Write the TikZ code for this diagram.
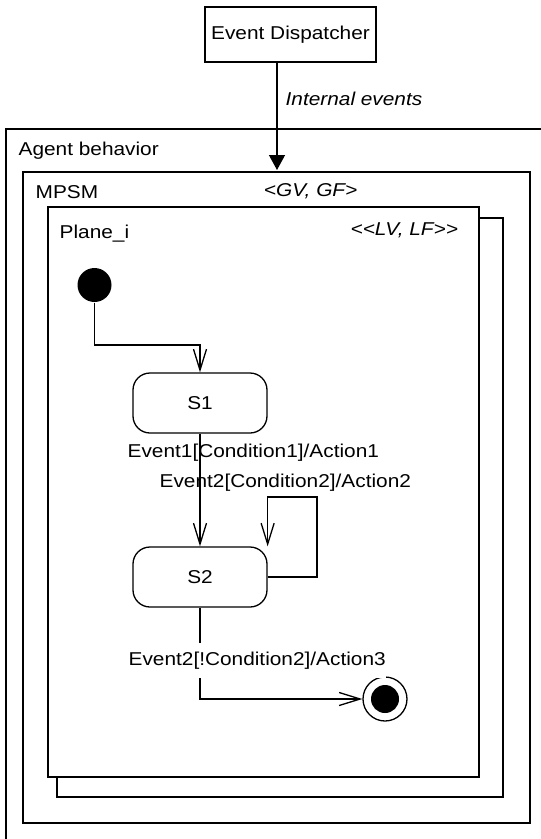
\documentclass[tikz,border=0pt]{standalone}
\usepackage{fontspec}
\setmainfont[FakeStretch=1.12,Ligatures=NoCommon]{Liberation Sans}
\usetikzlibrary{arrows.meta}
\begin{document}
\begin{tikzpicture}[x=1pt,y=-1pt,
  line width=1.3pt,
  txt/.style={inner sep=0pt, font=\fontsize{18.6}{21}\selectfont},
  itxt/.style={txt, font=\fontsize{18.6}{21}\selectfont\itshape},
  statebox/.style={draw, rounded corners=17pt, minimum width=134pt, minimum height=60pt, inner sep=0pt, font=\fontsize{18.6}{21}\selectfont},
  openarrow/.style={-{Straight Barb[length=21pt,width=13pt]}},
  container/.style={draw},
]
\useasboundingbox (0,0) rectangle (541,839);
\fill[white] (0,0) rectangle (541,839);

% Event dispatcher
\node[draw, minimum width=171pt, minimum height=55pt, inner sep=0pt, font=\fontsize{18.6}{21}\selectfont] (ed) at (290.5,34.5) {Event Dispatcher};
\coordinate (edtip) at (277,170);
\draw[-{Triangle[length=15pt,width=16pt]}] (ed.south -| edtip) -- (edtip);
\node[itxt, anchor=base west] (ie) at (285,105) {Internal events};

% Agent behavior (cut off at right and bottom)
\draw (541,129) -- (6,129) -- (6,839);
\node[txt, anchor=base west] (ab) at (18,155) {Agent behavior};

% MPSM
\draw[container] (23,172) rectangle (530,823);
\node[txt, anchor=base west] (mpsm) at (35,198) {MPSM};
\node[itxt, anchor=base east] (gvgf) at (358,196) {<GV, GF>};

% Planes
\draw[container] (57,218) rectangle (503,797);
\draw[container, fill=white] (48,207) rectangle (479,777);
\node[txt, anchor=base west] (plane) at (59,238) {Plane\_i};
\node[itxt, anchor=base west] (lvlf) at (350,235) {<{}<LV, LF>{}>};

% States
\node[circle, fill, inner sep=0pt, minimum size=34pt] (init) at (94.5,285) {};
\node[statebox] (S1) at (200,403) {S1};
\node[statebox] (S2) at (200,577) {S2};
\node[circle, draw, inner sep=0pt, minimum size=44pt] (fin) at (385,699) {};
\node[circle, fill, inner sep=0pt, minimum size=28pt] (fini) at (fin) {};

% Transitions
\coordinate (b1) at (200,345);
\draw[openarrow] (init.south) |- (b1) -- (S1.north);
\draw[openarrow] (S1.south) -- (S2.north);
\node[txt, anchor=base west] (t1) at (127,457) {Event1[Condition1]/Action1};
\node[txt, anchor=base west] (t2) at (159,487) {Event2[Condition2]/Action2};
\coordinate (l1) at (317,497);
\draw[openarrow] (S2.east) -| (l1) -| (S2.north east);
\draw[openarrow] (S2.south) |- (fin.west);
\node[txt, anchor=base west, fill=white, inner ysep=9pt, inner xsep=0pt] (t3) at (128,665) {Event2[!Condition2]/Action3};
\end{tikzpicture}
\end{document}
